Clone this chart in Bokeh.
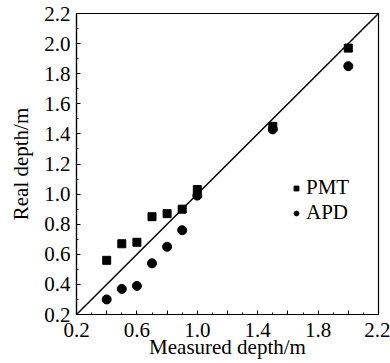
from bokeh.plotting import figure
from bokeh.models import FixedTicker, Range1d, Legend, LegendItem, Slope
from bokeh.embed import file_html
from bokeh.resources import INLINE

measured = [0.4, 0.5, 0.6, 0.7, 0.8, 0.9, 1.0, 1.5, 2.0]
pmt_real = [0.56, 0.67, 0.68, 0.85, 0.87, 0.90, 1.03, 1.45, 1.97]
apd_real = [0.30, 0.37, 0.39, 0.54, 0.65, 0.76, 0.99, 1.43, 1.85]

x_major = [0.2, 0.4, 0.6, 0.8, 1.0, 1.2, 1.4, 1.6, 1.8, 2.0, 2.2]
x_labeled = [0.2, 0.6, 1.0, 1.4, 1.8, 2.2]
y_major = [0.2, 0.4, 0.6, 0.8, 1.0, 1.2, 1.4, 1.6, 1.8, 2.0, 2.2]
minor = [0.3, 0.5, 0.7, 0.9, 1.1, 1.3, 1.5, 1.7, 1.9, 2.1]

FONT = "Liberation Serif"
FS = "21px"

p = figure(width=390, height=363, output_backend="svg", toolbar_location=None,
           x_range=Range1d(0.2, 2.2), y_range=Range1d(0.2, 2.2),
           min_border_left=76, min_border_right=12, min_border_top=13, min_border_bottom=49)
p.background_fill_color = "white"
p.border_fill_color = "white"
p.outline_line_color = "black"
p.outline_line_width = 1.2
p.grid.visible = False

for ax in (p.xaxis[0], p.yaxis[0]):
    ax.axis_line_color = "black"
    ax.axis_line_width = 1.2
    ax.major_tick_in = 4
    ax.major_tick_out = 0
    ax.minor_tick_in = 2
    ax.minor_tick_out = 0
    ax.major_tick_line_color = "black"
    ax.minor_tick_line_color = "black"
    ax.major_label_text_font = FONT
    ax.major_label_text_font_size = FS
    ax.major_label_text_color = "black"
    ax.axis_label_text_font = FONT
    ax.axis_label_text_font_size = FS
    ax.axis_label_text_font_style = "normal"
    ax.axis_label_text_color = "black"

p.xaxis.ticker = FixedTicker(ticks=x_major, minor_ticks=minor)
p.yaxis.ticker = FixedTicker(ticks=y_major, minor_ticks=minor)
p.xaxis.major_label_overrides = {t: ("" if t not in x_labeled else f"{t:.1f}") for t in x_major}
p.yaxis.major_label_overrides = {t: f"{t:.1f}" for t in y_major}
p.xaxis.axis_label = "Measured depth/m"
p.yaxis.axis_label = "Real depth/m"
p.xaxis.major_label_standoff = 8
p.xaxis.axis_label_standoff = -5
p.yaxis.major_label_standoff = 6
p.yaxis.axis_label_standoff = 8

p.add_layout(Slope(gradient=1, y_intercept=0, line_color="black", line_width=1.5))

r1 = p.scatter(measured, pmt_real, marker="square", size=8, color="black")
r2 = p.scatter(measured, apd_real, marker="circle", size=9, color="black")

legend = Legend(items=[LegendItem(label="PMT", renderers=[r1]),
                       LegendItem(label="APD", renderers=[r2])],
                location=(214, 89), orientation="vertical",
                border_line_color=None, background_fill_alpha=0,
                label_text_font=FONT, label_text_font_size=FS,
                label_text_color="black",
                glyph_width=12, glyph_height=12, label_standoff=4,
                spacing=-4, padding=0, margin=0, label_height=21)
p.add_layout(legend)

open("out.html", "w").write(file_html(p, INLINE))
